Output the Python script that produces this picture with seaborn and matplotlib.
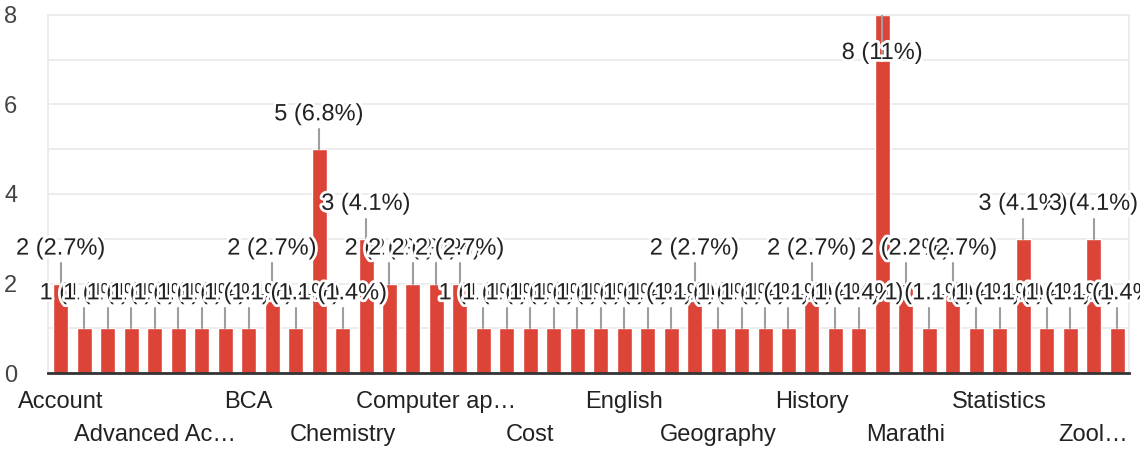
import matplotlib
matplotlib.use("Agg")
import matplotlib.pyplot as plt
import matplotlib.patheffects as pe
import pandas as pd
import seaborn as sns

# subjects (only every 4th name is readable on the chart)
subjects = [
    "Account", "Accountancy", "Accounts", "Actuarial science",
    "Advanced Accounting", "Agriculture", "Anthropology", "Banking",
    "BCA", "Biology", "Botany", "Business",
    "Chemistry", "Commerce", "Company law", "Computer",
    "Computer application", "Computer science", "Corporate finance", "Corporate law",
    "Cost", "Costing", "Economics", "Electronics",
    "English", "Environmental science", "Finance", "French",
    "Geography", "Geology", "German", "Hindi",
    "History", "Home science", "Law", "Management",
    "Marathi", "Marketing", "Mathematics", "Physics",
    "Statistics", "Taxation", "Tourism", "Urdu",
    "Zoology", "Zoology hons",
]
counts = [
    2, 1, 1, 1, 1, 1, 1, 1,
    1, 2, 1, 5, 1, 3, 2, 2,
    2, 2, 1, 1, 1, 1, 1, 1,
    1, 1, 1, 2, 1, 1, 1, 1,
    2, 1, 1, 8, 2, 1, 2, 1,
    1, 3, 1, 1, 3, 1,
]
shown_labels = ["Account", "Advanced Ac…", "BCA", "Chemistry", "Computer ap…", "Cost",
                "English", "Geography", "History", "Marathi", "Statistics", "Zool…"]

RED = "#db4437"

df = pd.DataFrame({"subject": subjects, "count": counts})
total = df["count"].sum()

sns.set_theme(style="white")
plt.rcParams["font.family"] = ["Liberation Sans", "DejaVu Sans"]

fig = plt.figure(figsize=(11.4, 4.5), dpi=100)
ax = fig.add_axes([0.0421, 0.1711, 0.9483, 0.7956])

sns.barplot(data=df, x="subject", y="count", color=RED, saturation=1,
            width=0.64, ax=ax, zorder=2)

ax.set_ylim(0, 8)
ax.set_xlim(-0.55, len(subjects) - 0.49)

# gridlines at every unit, labels every 2
ax.set_yticks(range(0, 9, 2))
ax.set_yticks(range(0, 9), minor=True)
ax.grid(which="both", axis="y", color="#ebebeb", lw=1.3, zorder=0)
ax.tick_params(axis="y", which="both", length=0, pad=22, labelsize=17, labelcolor="#444444")

# two staggered rows of x labels
pos = list(range(0, len(subjects), 4))
ax.set_xticks(pos[0::2], shown_labels[0::2])
ax.set_xticks(pos[1::2], shown_labels[1::2], minor=True)
ax.tick_params(axis="x", which="major", length=0, pad=13, labelsize=17, labelcolor="#222222")
ax.tick_params(axis="x", which="minor", length=0, pad=37, labelsize=17, labelcolor="#222222")
ax.set_xlabel("")
ax.set_ylabel("")

for s in ["left", "right", "top"]:
    ax.spines[s].set_color("#ebebeb")
    ax.spines[s].set_linewidth(1.3)
ax.spines["bottom"].set_color("#333333")
ax.spines["bottom"].set_linewidth(2)
ax.spines["bottom"].set_zorder(4)

halo = [pe.withStroke(linewidth=4, foreground="white")]
for i, v in enumerate(counts):
    pct = 100 * v / total
    pct_txt = f"{pct:.0f}" if pct >= 10 else f"{pct:.1f}"
    if v + 0.9 > 8:
        ty = v - 0.85
        ax.plot([i, i], [v, ty], color="#9e9e9e", lw=1.5, zorder=3)
    else:
        ty = v + 0.78
        ax.plot([i, i], [v, v + 0.45], color="#9e9e9e", lw=1.5, zorder=3)
    ax.text(i, ty, f"{v} ({pct_txt}%)", ha="center", va="center", fontsize=17,
            color="#222222", path_effects=halo, zorder=5)

fig.savefig("out.png", dpi=100)
